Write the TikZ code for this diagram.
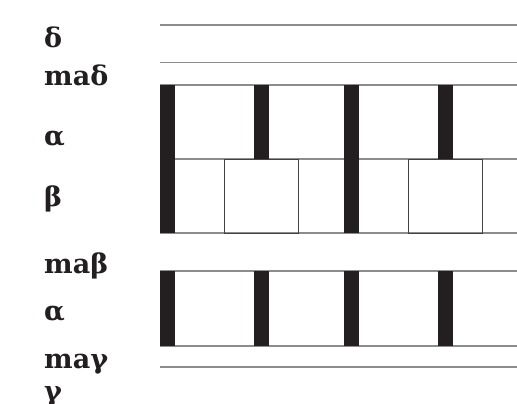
\documentclass[tikz,border=0pt]{standalone}
\usepackage{fontspec}
\newfontfamily\labfont{DejaVu Serif}
\definecolor{ink}{HTML}{231F20}
\definecolor{rule}{HTML}{8C8C8C}
\begin{document}
\begin{tikzpicture}[x=1pt,y=-1pt,
  lab/.style={anchor=base west,inner sep=0pt,font=\labfont\bfseries\fontsize{27}{30}\selectfont,text=ink},
  hline/.style={draw=rule,line width=1.3pt},
  bar/.style={fill=ink,draw=none},
  cell/.style={draw=ink!85,line width=0.9pt}]
\useasboundingbox (0,0) rectangle (517,404);
% labels
\node[lab] (l1) at (44,48) {δ};
\node[lab] (l2) at (44,85) {maδ};
\node[lab] (l3) at (44,145) {α};
\node[lab] (l4) at (44,206) {β};
\node[lab] (l5) at (44,273) {maβ};
\node[lab] (l6) at (44,320) {α};
\node[lab] (l7) at (44,368) {maγ};
\node[lab] (l8) at (44,400) {γ};
% horizontal lines
\foreach \y in {25,62.5,85,159,233,271,346,367}
  \draw[hline] (160,\y) -- (517,\y);
% beta cells
\draw[cell] (224,159) rectangle (298,233);
\draw[cell] (408,159) rectangle (482,233);
% bars upper block
\fill[bar] (160,85) rectangle (175,233);
\fill[bar] (344,85) rectangle (359,233);
\fill[bar] (254,85) rectangle (269,159);
\fill[bar] (438,85) rectangle (453,159);
% bars lower block
\foreach \x in {160,254,344,438}
  \fill[bar] (\x,271) rectangle (\x+15,346);
\end{tikzpicture}
\end{document}
